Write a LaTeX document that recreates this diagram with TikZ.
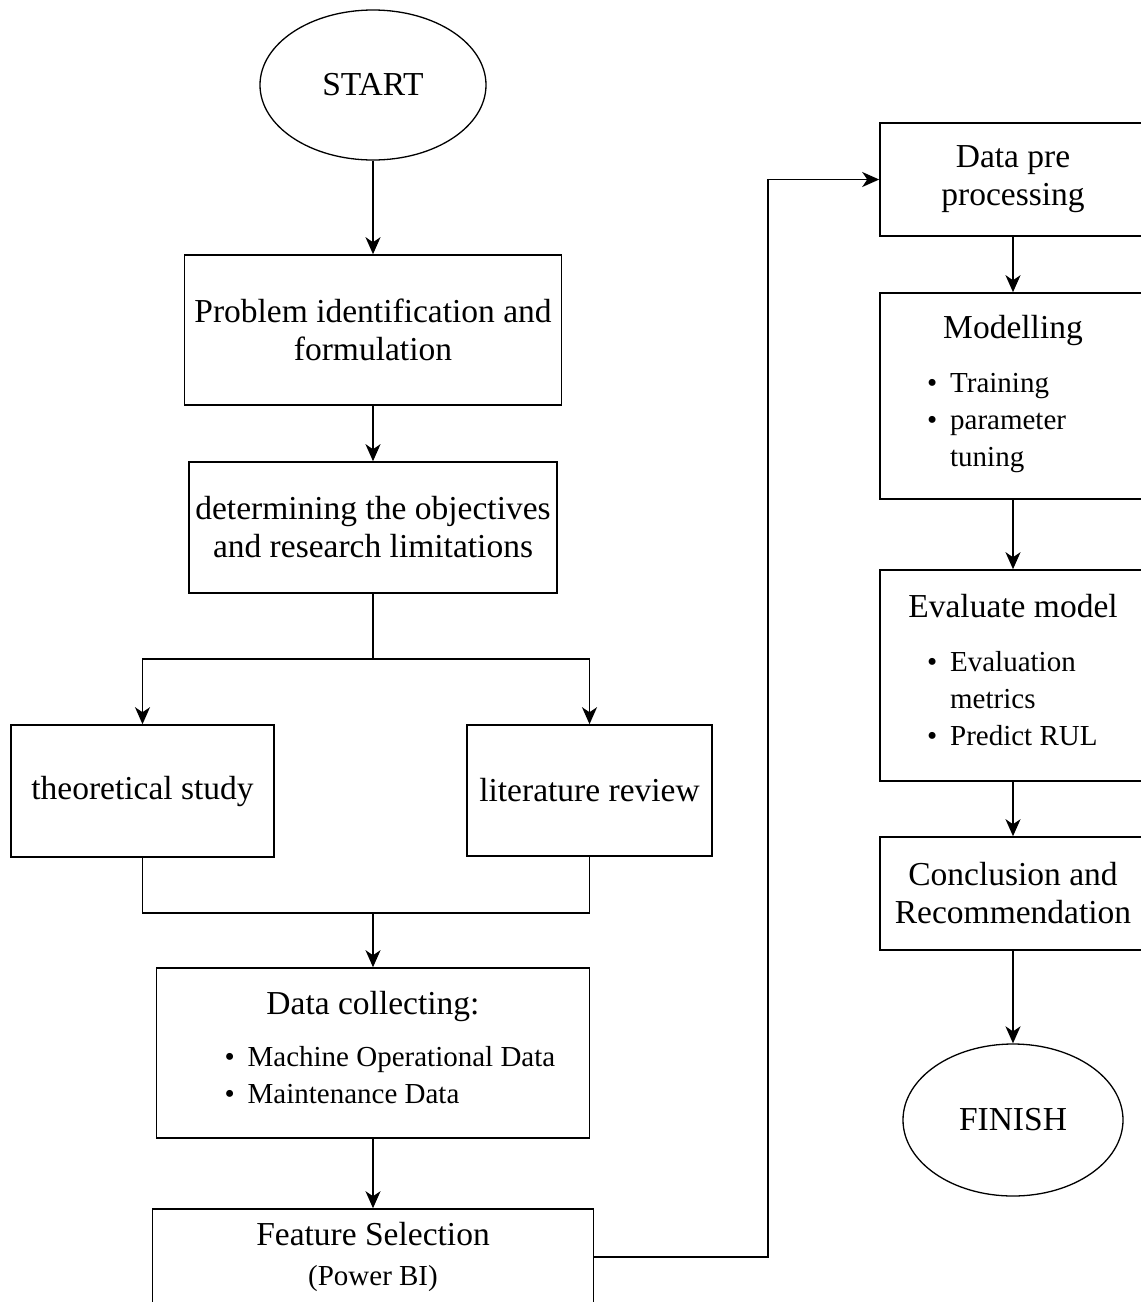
\documentclass[tikz,border=0pt]{standalone}
\usepackage{fontspec}
\setmainfont{Liberation Serif}
\usetikzlibrary{shapes.geometric,arrows.meta}
\newcommand{\titlesize}{\fontsize{33.5}{38}\selectfont}
\newcommand{\itemsize}{\fontsize{29}{37}\selectfont}
\newcommand{\plainspaces}{\spaceskip=0pt\xspaceskip=0pt\relax}
\newcommand{\bulletlist}[1]{{\itemsize\begin{tabular}[t]{@{}l@{\hspace{13pt}}l@{}}#1\end{tabular}}}

\tikzset{
  flowbox/.style={draw, rectangle, line width=1.6pt, inner sep=4pt, align=center, font=\titlesize},
  terminal/.style={draw, ellipse, line width=1.3pt, inner sep=0pt, font=\titlesize},
  flowline/.style={line width=1.6pt},
  flowarrow/.style={line width=1.6pt, -{Stealth[length=17pt,width=15pt,inset=5pt]}}
}

\begin{document}
\begin{tikzpicture}[x=1pt,y=-1pt]
  \useasboundingbox (0,0) rectangle (1141,1302);
  \clip (0,0) rectangle (1141,1302);

  \node[terminal, minimum width=226, minimum height=150] (start) at (373,85) {START};
  \node[flowbox, minimum width=377, minimum height=150] (prob) at (373,330) {Problem identification and\\formulation};
  \node[flowbox, minimum width=368, minimum height=131] (goal) at (373,527.5) {determining the objectives\\and research limitations};
  \node[flowbox, minimum width=263, minimum height=132] (theo) at (142.5,791) {theoretical study};
  \node[flowbox, minimum width=245, minimum height=131] (lit) at (589.5,790.5) {literature review};
  \node[flowbox, minimum width=433, minimum height=170, text width=425, align=left] (data) at (373,1053)
    {\plainspaces\makebox[\hsize]{Data collecting:}\\[14pt]\hspace*{64pt}\bulletlist{\textbullet & Machine Operational Data\\ \textbullet & Maintenance Data}};
  \node[flowbox, minimum width=441, minimum height=96] (feat) at (373,1257) {Feature Selection\\[2pt]{\itemsize (Power BI)}};

  \node[flowbox, minimum width=266, minimum height=113] (pre) at (1013,179.5) {Data pre\\processing};
  \node[flowbox, minimum width=266, minimum height=206, text width=258, align=left] (model) at (1013,396)
    {\plainspaces\makebox[\hsize]{Modelling}\\[16pt]\hspace*{43pt}\bulletlist{\textbullet & Training\\ \textbullet & parameter\\ & tuning}};
  \node[flowbox, minimum width=266, minimum height=211, text width=258, align=left] (eval) at (1013,675.5)
    {\plainspaces\makebox[\hsize]{Evaluate model}\\[16pt]\hspace*{43pt}\bulletlist{\textbullet & Evaluation\\ & metrics\\ \textbullet & Predict RUL}};
  \node[flowbox, minimum width=266, minimum height=113] (concl) at (1013,893.5) {Conclusion and\\Recommendation};
  \node[terminal, minimum width=220, minimum height=152] (finish) at (1013,1120) {FINISH};

  \coordinate (split) at (373,659);
  \coordinate (merge) at (373,913);
  \coordinate (riser) at (768,1257);

  \draw[flowarrow] (start) -- (prob);
  \draw[flowarrow] (prob) -- (goal);
  \draw[flowline] (goal) -- (split);
  \draw[flowarrow] (split) -| (theo);
  \draw[flowarrow] (split) -| (lit);
  \draw[flowline] (theo) |- (merge) -| (lit);
  \draw[flowarrow] (merge) -- (data);
  \draw[flowarrow] (data) -- (feat);
  \draw[flowarrow] (feat) -- (riser) |- (pre);

  \draw[flowarrow] (pre) -- (model);
  \draw[flowarrow] (model) -- (eval);
  \draw[flowarrow] (eval) -- (concl);
  \draw[flowarrow] (concl) -- (finish);
\end{tikzpicture}
\end{document}
